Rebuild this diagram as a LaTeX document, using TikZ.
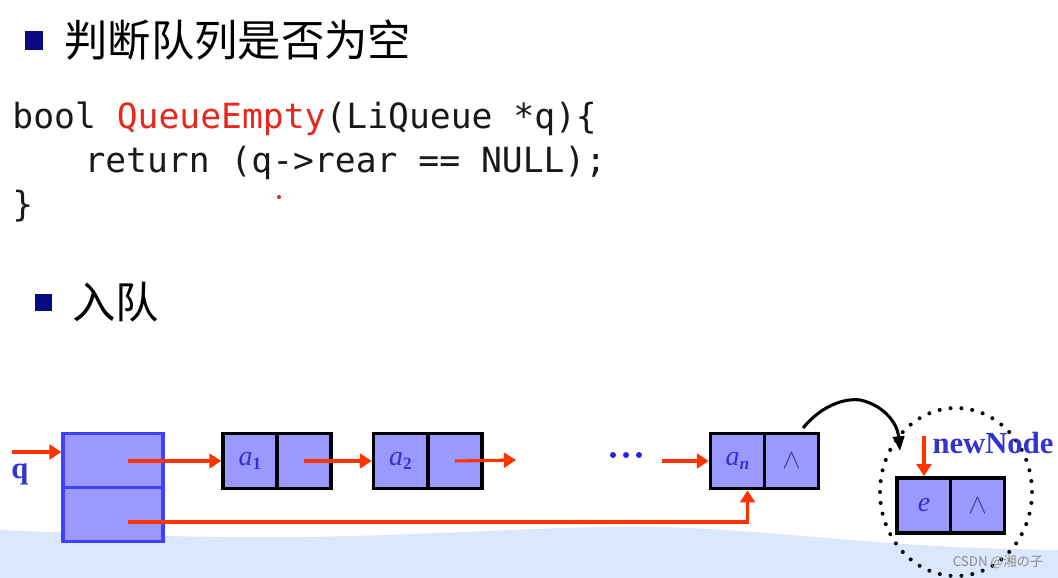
\documentclass[tikz,border=0pt]{standalone}
\usepackage{fontspec}
\usetikzlibrary{arrows.meta}
\newfontfamily\cjkfont{Noto Sans CJK SC}
\newfontfamily\codefont{DejaVu Sans Mono}
\newfontfamily\timesfont{Liberation Serif}
\definecolor{boxfill}{RGB}{153,153,255}
\definecolor{headblue}{RGB}{64,64,255}
\definecolor{ptrred}{RGB}{255,51,0}
\definecolor{labblue}{RGB}{51,51,210}
\definecolor{bulletblue}{RGB}{10,10,128}
\definecolor{codered}{RGB}{232,40,30}
\definecolor{waveblue}{RGB}{218,231,252}
\definecolor{wedgecol}{RGB}{60,60,140}
\newcommand{\lsub}[1]{\raisebox{-0.35ex}{\upshape\bfseries\fontsize{13}{13}\selectfont #1}}

\tikzset{every picture/.style={line width=0.75pt},
  cell/.style={draw=black,line width=2.6pt,fill=boxfill,minimum width=40.5pt,minimum height=41.5pt,inner sep=0pt,text=labblue,font=\timesfont\itshape\fontsize{21}{21}\selectfont},
  headcell/.style={draw=headblue,line width=2.4pt,fill=boxfill,minimum width=75pt,minimum height=40.5pt,inner sep=0pt},
  ptr/.style={draw=ptrred,line width=2.3pt,-{Triangle[length=9pt,width=11pt]}},
  linkarrow/.style={draw=black,line width=2.3pt,-{Triangle[length=11pt,width=8.5pt]}},
  dotring/.style={draw=black,line width=3pt,line cap=round,dash pattern=on 0pt off 8.2pt},
  heading/.style={anchor=west,inner sep=0pt,font=\cjkfont\fontsize{32.5}{36}\selectfont},
  codeline/.style={anchor=base west,inner sep=0pt,text=black!90,font=\codefont\fontsize{26}{30}\selectfont},
  lab/.style={inner sep=0pt,text=labblue,font=\timesfont\bfseries\fontsize{23}{23}\selectfont},
  nullmark/.style={text=wedgecol,font=\fontsize{20}{20}\selectfont},
  wm/.style={inner sep=0pt,text=black!45,font=\cjkfont\fontsize{10}{10}\selectfont}
}

\begin{document}
\begin{tikzpicture}[x=0.75pt,y=0.75pt,yscale=-1,xscale=1]
\useasboundingbox (0,0) rectangle (1058,578);

%Shape: Wave [background]
\fill[waveblue] (0,530) .. controls (120,535) and (200,538) .. (300,537) .. controls (450,535) and (560,525) .. (660,527) .. controls (780,530) and (880,548) .. (1058,550) -- (1058,578) -- (0,578) -- cycle ;

%Shape: Rectangle [bullets]
\fill[bulletblue] (25,31) rectangle (43,50) ;
\fill[bulletblue] (35,294) rectangle (52,311) ;

% Text Node
\node[heading] (title) at (64,40) {判断队列是否为空};
\node[heading] (enq) at (72,302) {入队};

% Text Node
\node[codeline] (code1) at (12,128) {bool \textcolor{codered}{QueueEmpty}(LiQueue *q)\{};
\node[codeline] (code2) at (84,172) {return (q->rear == NULL);};
\node[codeline] (code3) at (12,216) {\}};
\fill[codered] (279,197) circle (2) ;

%Shape: Rectangle [queue head]
\node[headcell] (qtop) at (113,460.5) {};
\node[headcell] (qbot) at (113,514.5) {};
\node[lab] (qlab) at (20,474) {q};

%Shape: Rectangle [list nodes]
\node[cell] (a1d) at (250,461) {a\lsub{1}};
\node[cell] (a1n) at (304,461) {};
\node[cell] (a2d) at (400.5,461) {a\lsub{2}};
\node[cell] (a2n) at (455,461) {};
\node[cell] (and) at (737.5,461) {a\lsub{\itshape n}};
\node[cell] (ann) at (791.5,461) {};
\node[nullmark] at (ann) {$\wedge$};
\node[cell] (ed) at (924,505.5) {e};
\node[cell] (en) at (977.5,505.5) {};
\node[nullmark] at (en) {$\wedge$};

% dots
\foreach \x in {613,626,639} \fill[labblue!70!blue] (\x,455) circle (3) ;

%Straight Lines [pointers]
\coordinate (qin) at (12,452);
\coordinate (fp) at (128,461);
\coordinate (rp) at (128,522);
\coordinate (a2end) at (516,460);
\coordinate (anin) at (662,461);
\draw[ptr] (qin) -- (qin -| qtop.west) ;
\draw[ptr] (fp) -- (a1d.west) ;
\draw[ptr] (a1n.center) -- (a2d.west) ;
\draw[ptr] (a2n.center) -- (a2end) ;
\draw[ptr] (anin) -- (and.west) ;
\draw[ptr] (rp) -| ([xshift=7.5pt]and.south) ;

%Curve Lines [link to new node]
\coordinate (cs) at (803,428);
\coordinate (ct) at (900,451);
\draw[linkarrow] (cs) .. controls (822,405) and (845,398) .. (860,400) .. controls (880,404) and (897,420) .. (ct) ;

%Shape: Ellipse [new node ring]
\draw[dotring] (956,492) ellipse (76 and 84) ;

% Text Node
\node[lab,anchor=west] (nnlab) at (932,443) {newNode};
\coordinate (nnp) at (924,436);
\draw[ptr] (nnp) -- (ed.north) ;

\node[wm] (wmark) at (998,562) {CSDN @湘の子};
\end{tikzpicture}
\end{document}
